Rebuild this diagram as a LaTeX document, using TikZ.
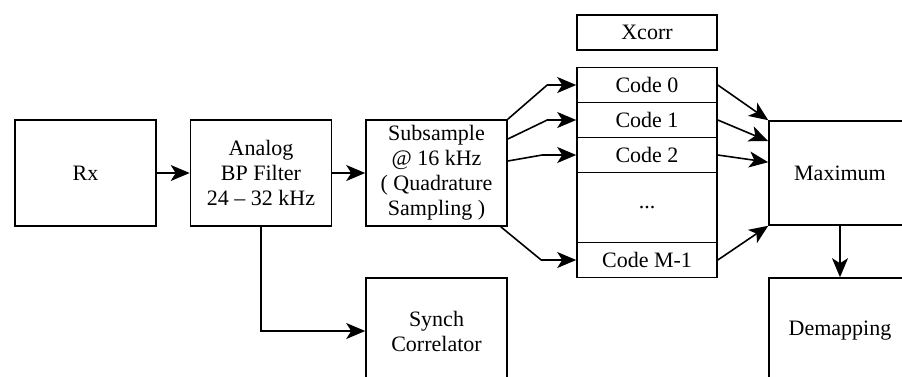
\documentclass[tikz,border=0pt]{standalone}
\usepackage{fontspec}
\setmainfont{Liberation Serif}
\usetikzlibrary{arrows.meta,calc}
\begin{document}
\begin{tikzpicture}[x=1pt,y=-1pt,
  blk/.style={draw,line width=1.6pt,rectangle,align=center,inner sep=0pt,
    font=\fontsize{22}{25}\selectfont,minimum width=141pt,minimum height=106pt},
  cbox/.style={blk,minimum width=140pt,minimum height=35pt},
  arr/.style={line width=1.6pt,-{Stealth[length=19pt,width=16pt,inset=5pt]}}]
\useasboundingbox (0,0) rectangle (902,376);
\clip (0,0) rectangle (902,376);
\node[blk] (rx) at (85.5,173) {Rx};
\node[blk] (filt) at (261,173) {Analog\\BP Filter\\24 – 32 kHz};
\node[blk] (sub) at (436.5,173) {Subsample\\@ 16 kHz\\( Quadrature\\Sampling )};
\node[blk] (syn) at (436.5,331) {Synch\\Correlator};
\node[cbox] (xc) at (647,32.5) {Xcorr};
\node[cbox] (c0) at (647,85) {Code 0};
\node[cbox] (c1) at (647,120) {Code 1};
\node[cbox] (c2) at (647,155) {Code 2};
\node[cbox,minimum height=70pt] (cd) at (647,207.5) {...};
\node[cbox] (cm) at (647,260) {Code M-1};
\node[blk,minimum width=142pt,minimum height=104pt] (mx) at (840,173) {Maximum};
\node[blk,minimum width=142pt] (dm) at (840,331) {Demapping};
\draw[arr] (rx.east) -- (filt.west);
\draw[arr] (filt.east) -- (sub.west);
\draw[arr] (filt.south) |- (syn.west);
\draw[arr] (sub.north east) -- ([xshift=-29pt]c0.west) -- (c0.west);
\draw[arr] ([yshift=34pt]sub.east) -- ([xshift=-29pt]c1.west) -- (c1.west);
\draw[arr] ([yshift=12pt]sub.east) -- ([xshift=-34pt]c2.west) -- (c2.west);
\draw[arr] ([xshift=-7pt]sub.south east) -- ([xshift=-35pt]cm.west) -- (cm.west);
\draw[arr] (c0.east) -- (mx.north west);
\draw[arr] (c1.east) -- ([yshift=-21pt]mx.north west);
\draw[arr] (c2.east) -- ([yshift=-42pt]mx.north west);
\draw[arr] (cm.east) -- (mx.south west);
\draw[arr] (mx.south) -- (dm.north);
\end{tikzpicture}
\end{document}
